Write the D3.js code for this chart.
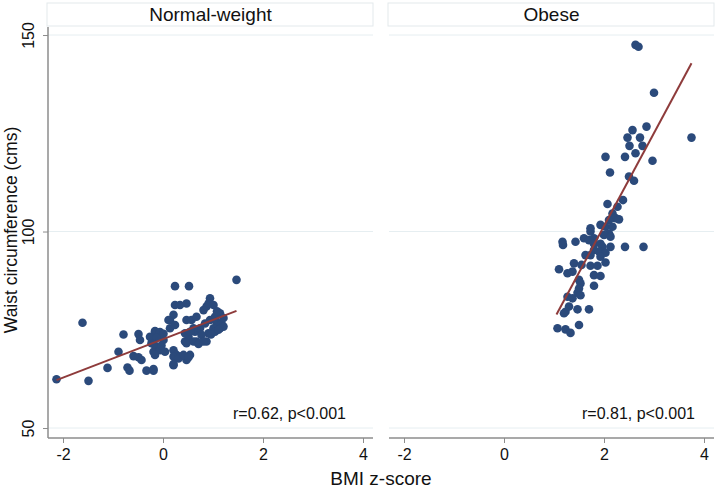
<!DOCTYPE html>
<html><head><meta charset="utf-8">
<script src="https://cdn.jsdelivr.net/npm/d3@7"></script>
<style>body{margin:0;background:#fff}svg{display:block}</style>
</head><body>
<svg id="c" width="717" height="491"></svg>
<script>
const panels = ["Normal-weight", "Obese"];
const stats = ["r=0.62, p<0.001", "r=0.81, p<0.001"];
const xTicks = [-2, 0, 2, 4];
const yTicks = [50, 100, 150];

const normalBMI = [-2.13,-1.61,-1.49,-1.11,-0.89,-0.79,-0.71,-0.67,-0.49,-0.46,-0.59,-0.49,-0.43,-0.33,-0.19,-0.26,-0.16,-0.09,-0.23,-0.13,-0.19,-0.06,-0.16,0.01,0.04,0.14,0.21,0.14,0.24,0.34,0.47,0.24,0.52,0.21,0.27,0.21,0.34,0.47,0.54,0.44,0.51,0.47,0.57,0.67,0.64,0.67,0.74,0.81,0.87,0.94,0.91,1.01,0.84,0.94,1.04,1.14,1.07,1.17,1.14,1.01,0.91,0.87,1.04,1.21,1.47,0.77,0.61,0.11,0.24,-0.16,-0.06,0.01,-0.23,-0.13,-0.19,-0.03,0.21,0.31,0.41,0.51,0.21,-0.19,0.44,0.54,0.47,0.61,0.71,0.81,1.08,1.21,1.11,0.96];
const normalWaist = [62.4,76.8,62.0,65.3,69.4,73.8,65.4,64.6,73.9,72.4,68.3,68.0,67.3,64.6,64.6,73.2,74.5,73.7,71.6,70.7,69.4,69.8,68.6,72.4,69.4,77.5,78.8,75.4,81.3,81.3,81.7,86.1,86.1,69.8,68.6,66.0,68.2,67.3,68.6,72.0,73.2,77.5,77.5,78.3,74.5,72.0,75.4,80.0,80.9,83.0,81.7,81.3,76.6,77.5,78.3,79.2,77.0,76.6,75.4,75.4,74.1,72.0,74.5,75.8,87.7,73.7,75.4,77.5,76.2,74.7,74.4,74.0,73.0,73.0,71.4,71.0,68.2,67.7,68.6,68.0,66.3,65.0,74.1,74.5,71.6,72.0,71.4,72.0,79.7,78.0,75.0,73.8];

const obeseBMI = [2.63,2.69,3.00,3.75,2.85,2.57,2.47,2.72,2.51,2.77,2.63,2.03,2.42,2.97,2.12,2.50,2.60,2.38,2.07,2.27,2.17,2.23,2.30,2.10,1.93,2.03,2.17,1.73,1.73,2.10,2.00,2.13,1.60,1.70,1.80,1.17,1.43,1.18,1.80,1.93,1.97,2.13,2.42,2.79,1.80,1.90,2.03,1.63,1.73,1.93,2.03,1.40,1.55,1.73,1.87,1.10,1.27,1.37,1.80,1.93,1.50,1.53,1.80,1.50,1.47,1.53,1.27,1.37,1.30,1.23,1.20,1.47,1.70,1.07,1.23,1.33,1.50];
const obeseWaist = [147.5,147.0,135.3,123.9,126.7,125.8,123.9,123.9,121.8,121.8,119.9,119.0,119.0,118.0,115.0,114.0,112.9,108.0,107.0,106.3,104.6,103.4,103.1,102.9,101.7,101.2,101.2,100.8,100.0,99.5,99.1,98.7,98.3,97.8,98.3,97.4,97.4,96.6,96.9,96.9,96.1,96.1,96.1,96.1,95.3,94.9,94.6,94.0,94.0,93.6,92.1,91.9,91.5,91.3,91.3,90.4,89.4,89.8,88.9,88.7,87.7,86.8,86.2,85.5,84.4,83.8,83.4,83.0,80.9,79.6,79.2,80.2,80.2,75.4,75.1,74.2,76.2];

// fitted line end points (BMI z, waist)
const fitNormalBMI = [-2.13, 1.47];
const fitNormalWaist = [62.2, 79.8];
const fitObeseBMI = [1.05, 3.75];
const fitObeseWaist = [78.9, 142.8];

const series = [
  {bmi: normalBMI, waist: normalWaist, fx: fitNormalBMI, fy: fitNormalWaist},
  {bmi: obeseBMI, waist: obeseWaist, fx: fitObeseBMI, fy: fitObeseWaist}
];

const svg = d3.select("#c");
const FONT = "'Liberation Sans', Arial, Helvetica, sans-serif";
const topY = 27, bottomY = 438;
const panelX = [[48, 373], [389, 714]];
const y = d3.scaleLinear().domain([47.46, 152.04]).range([bottomY, topY]);

const dotColor = "#2b4a7b", lineColor = "#8e3b3b", axisColor = "#8c8c8c", gridColor = "#e6eef1";

panelX.forEach((px, i) => {
  const x = d3.scaleLinear().domain([-2.3, 4.2]).range(px);
  const g = svg.append("g");
  // header
  g.append("rect").attr("x", px[0] - 1).attr("y", 3).attr("width", px[1] - px[0] + 1).attr("height", 23)
    .attr("fill", "#fff").attr("stroke", "#e3e9ec").attr("stroke-width", 1);
  g.append("text").attr("x", (px[0] + px[1]) / 2).attr("y", 21).attr("text-anchor", "middle")
    .attr("font-family", FONT).attr("font-size", 19).attr("fill", "#111").text(panels[i]);
  // grid
  g.selectAll("line.grid").data(yTicks).enter().append("line")
    .attr("x1", px[0]).attr("x2", px[1]).attr("y1", d => y(d)).attr("y2", d => y(d))
    .attr("stroke", gridColor).attr("stroke-width", 1);
  // x axis
  const xa = g.append("g").attr("transform", `translate(0,${bottomY})`)
    .call(d3.axisBottom(x).tickValues(xTicks).tickSize(5).tickPadding(6).tickFormat(d3.format("d")));
  xa.select(".domain").attr("stroke", axisColor).attr("stroke-width", 1.5).attr("d", `M${px[0]},0H${px[1]}`);
  xa.selectAll(".tick line").attr("stroke", axisColor);
  xa.selectAll("text").attr("font-family", FONT).attr("font-size", 16).attr("fill", "#111")
    .text(d => d < 0 ? "-" + Math.abs(d) : d);
  // y axis only on first panel
  if (i === 0) {
    const ya = g.append("g").attr("transform", `translate(${px[0]},0)`)
      .call(d3.axisLeft(y).tickValues(yTicks).tickSize(5).tickFormat(d3.format("d")));
    ya.select(".domain").attr("stroke", axisColor).attr("stroke-width", 1.5).attr("d", `M0,${topY}V${bottomY}`);
    ya.selectAll(".tick line").attr("stroke", axisColor);
    ya.selectAll("text").attr("font-family", FONT).attr("font-size", 16).attr("fill", "#111")
      .attr("transform", "rotate(-90)").attr("x", 0).attr("y", -14).attr("dy", 0)
      .attr("text-anchor", "middle");
  }
  // points
  const s = series[i];
  g.selectAll("circle").data(s.bmi.map((b, k) => [b, s.waist[k]])).enter().append("circle")
    .attr("cx", d => x(d[0])).attr("cy", d => y(d[1])).attr("r", 4.3)
    .attr("fill", dotColor);
  // fit line
  g.append("line").attr("x1", x(s.fx[0])).attr("y1", y(s.fy[0])).attr("x2", x(s.fx[1])).attr("y2", y(s.fy[1]))
    .attr("stroke", lineColor).attr("stroke-width", 2);
  // stats
  g.append("text").attr("x", i === 0 ? 346 : 695).attr("y", 419).attr("text-anchor", "end")
    .attr("font-family", FONT).attr("font-size", 16).attr("fill", "#111").text(stats[i]);
});

svg.append("text").attr("transform", "translate(11,230) rotate(-90)").attr("text-anchor", "middle")
  .attr("dy", "0.35em").attr("font-family", FONT).attr("font-size", 17.5).attr("fill", "#111")
  .text("Waist circumference (cms)");
svg.append("text").attr("x", 381).attr("y", 485).attr("text-anchor", "middle")
  .attr("font-family", FONT).attr("font-size", 19).attr("fill", "#111").text("BMI z-score");
</script>
</body></html>
